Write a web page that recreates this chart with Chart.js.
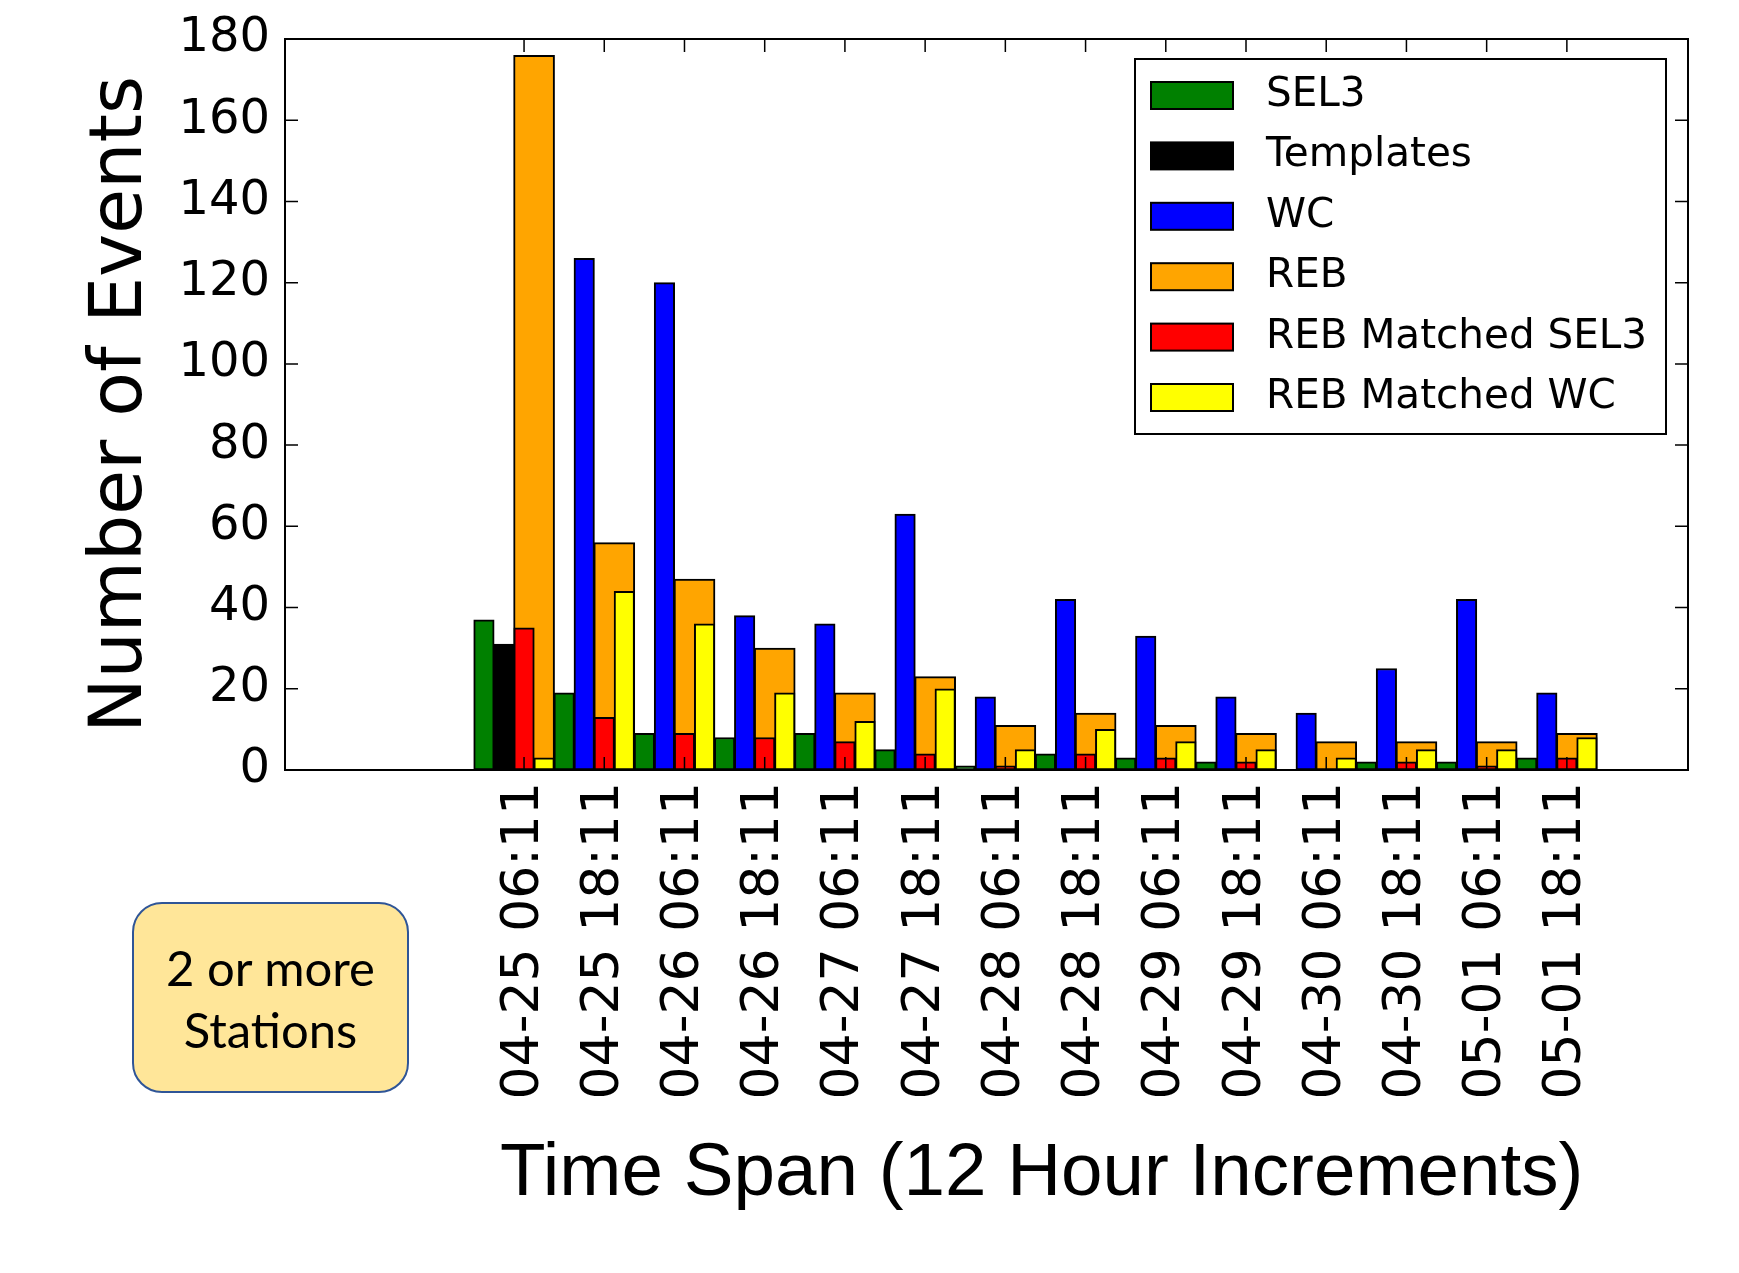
<!DOCTYPE html>
<html>
<head>
<meta charset="utf-8">
<script src="https://cdn.jsdelivr.net/npm/chart.js@4.4.1/dist/chart.umd.min.js"></script>
<style>
  html, body { margin: 0; padding: 0; background: #fff; }
  #wrap { position: relative; width: 1739px; height: 1273px; }
  #chart { position: absolute; left: 0; top: 0; }
  .xtitle {
    position: absolute; left: 500px; top: 1132px;
    font: 74.6px/75px "Liberation Sans", Arial, sans-serif; color: #000; white-space: nowrap;
  }
  .note {
    position: absolute; left: 132px; top: 902px; width: 277px; height: 191px;
    box-sizing: border-box; border: 2px solid #2F5597; border-radius: 30px; background: #FFE699;
    display: flex; align-items: center; justify-content: center; text-align: center;
    font: 49px/62px Lato, "Open Sans", sans-serif; color: #000;
  }
</style>
</head>
<body>
<div id="wrap">
  <canvas id="chart" width="1739" height="1273"></canvas>
  <div class="xtitle">Time Span (12 Hour Increments)</div>
  <div class="note">2 or more<br>Stations</div>
</div>
<script>
const timeLabels = ['04-25 06:11', '04-25 18:11', '04-26 06:11', '04-26 18:11', '04-27 06:11', '04-27 18:11',
  '04-28 06:11', '04-28 18:11', '04-29 06:11', '04-29 18:11', '04-30 06:11', '04-30 18:11', '05-01 06:11', '05-01 18:11'];
const sel3 = [37, 19, 9, 8, 9, 5, 1, 4, 3, 2, 0, 2, 2, 3];
const templates = [31, 0, 0, 0, 0, 0, 0, 0, 0, 0, 0, 0, 0, 0];
const wc = [0, 126, 120, 38, 36, 63, 18, 42, 33, 18, 14, 25, 42, 19];
const reb = [176, 56, 47, 30, 19, 23, 11, 14, 11, 9, 7, 7, 7, 9];
const rebMatchedSel3 = [35, 13, 9, 8, 7, 4, 1, 4, 3, 2, 0, 2, 1, 3];
const rebMatchedWc = [3, 44, 36, 19, 12, 20, 5, 10, 7, 5, 3, 5, 5, 8];
const yTicks = [0, 20, 40, 60, 80, 100, 120, 140, 160, 180];

// bars sit side by side inside each 12h slot, REB is twice as wide
function toPoints(values, shift) {
  return values.map((v, i) => ({ x: i + shift, y: v }));
}

function series(label, values, shift, color, wide) {
  return {
    label: label,
    data: toPoints(values, shift),
    backgroundColor: color,
    borderColor: '#000',
    borderWidth: 2,
    borderSkipped: false,
    barThickness: wide ? 41 : 20.5,
    order: wide ? 1 : 0
  };
}

const frameAndTicks = {
  id: 'frameAndTicks',
  afterDatasetsDraw(chart) {
    const { ctx, chartArea: a, scales: { x, y } } = chart;
    const len = 13;
    ctx.save();
    ctx.strokeStyle = '#000';
    ctx.lineWidth = 1.5;
    ctx.beginPath();
    x.ticks.forEach(t => {
      const px = x.getPixelForValue(t.value);
      ctx.moveTo(px, a.bottom); ctx.lineTo(px, a.bottom - len);
      ctx.moveTo(px, a.top); ctx.lineTo(px, a.top + len);
    });
    y.ticks.forEach(t => {
      const py = y.getPixelForValue(t.value);
      ctx.moveTo(a.left, py); ctx.lineTo(a.left + len, py);
      ctx.moveTo(a.right, py); ctx.lineTo(a.right - len, py);
    });
    ctx.stroke();
    ctx.lineWidth = 2;
    ctx.strokeRect(a.left, a.top, a.right - a.left, a.bottom - a.top);
    ctx.restore();
  }
};

const boxLegend = {
  id: 'boxLegend',
  afterDraw(chart) {
    const { ctx, chartArea: a } = chart;
    const right = a.right - 22, top = a.top + 20, w = 531, h = 375;
    const left = right - w;
    ctx.save();
    ctx.fillStyle = '#fff';
    ctx.fillRect(left, top, w, h);
    ctx.strokeStyle = '#000';
    ctx.lineWidth = 2;
    ctx.strokeRect(left, top, w, h);
    ctx.font = '40.5px "DejaVu Sans"';
    ctx.textBaseline = 'middle';
    ctx.textAlign = 'left';
    chart.data.datasets.forEach((ds, i) => {
      const cy = top + 36.5 + i * 60.4;
      ctx.fillStyle = ds.backgroundColor;
      ctx.fillRect(left + 16, cy - 13.5, 82, 27);
      ctx.strokeRect(left + 16, cy - 13.5, 82, 27);
      ctx.fillStyle = '#000';
      ctx.fillText(ds.label, left + 131, cy);
    });
    ctx.restore();
  }
};

new Chart(document.getElementById('chart'), {
  type: 'bar',
  data: {
    datasets: [
      series('SEL3', sel3, -0.5, '#008000'),
      series('Templates', templates, -0.25, '#000000'),
      series('WC', wc, -0.25, '#0000FF'),
      series('REB', reb, 0.125, '#FFA500', true),
      series('REB Matched SEL3', rebMatchedSel3, 0, '#FF0000'),
      series('REB Matched WC', rebMatchedWc, 0.25, '#FFFF00')
    ]
  },
  options: {
    responsive: false,
    animation: false,
    grouped: false,
    layout: { padding: { left: 0, right: 51, top: 39, bottom: 0 } },
    plugins: {
      legend: { display: false },
      tooltip: { enabled: false }
    },
    scales: {
      x: {
        type: 'linear',
        min: -2.98,
        max: 14.51,
        offset: false,
        grid: { display: false, drawTicks: false, offset: false },
        border: { display: false },
        afterBuildTicks(scale) {
          scale.ticks = timeLabels.map((_, i) => ({ value: i }));
        },
        afterFit(scale) {
          scale.height = 503;
          scale.paddingLeft = 0;
          scale.paddingRight = 0;
        },
        ticks: {
          autoSkip: false,
          minRotation: 90,
          maxRotation: 90,
          padding: 12,
          color: '#000',
          font: { family: 'DejaVu Sans', size: 52 },
          callback: (v) => timeLabels[v]
        }
      },
      y: {
        min: 0,
        max: 180,
        grid: { display: false, drawTicks: false },
        border: { display: false },
        afterBuildTicks(scale) {
          scale.ticks = yTicks.map(v => ({ value: v }));
        },
        afterFit(scale) {
          scale.width = 285;
          scale.paddingTop = 0;
          scale.paddingBottom = 0;
        },
        ticks: {
          padding: 15,
          color: '#000',
          font: { family: 'DejaVu Sans', size: 48 }
        },
        title: {
          display: true,
          text: 'Number of Events',
          color: '#000',
          font: { family: 'DejaVu Sans', size: 73 },
          padding: { top: 78, bottom: 0 }
        }
      }
    }
  },
  plugins: [frameAndTicks, boxLegend]
});
</script>
</body>
</html>
